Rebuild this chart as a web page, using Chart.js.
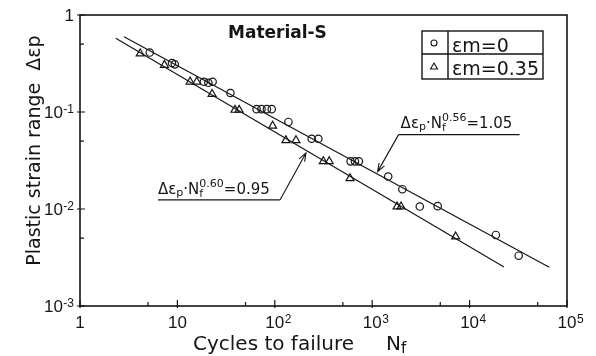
<!doctype html>
<html>

<head>
  <title>Plastic strain range vs cycles to failure</title>
</head>
<style>
  body {
    margin: 0;
    background: #fff;
  }

  .chartContainer {
    width: 596px;
    height: 356px;
  }
</style>

<body>
  <div class="chartContainer">
    <canvas id="fatigueId" width="596" height="356"></canvas>
  </div>
  <script src="https://cdn.jsdelivr.net/npm/chart.js@4/dist/chart.umd.min.js"></script>
  <script>
    // εm = 0 (circles)
    var cycCircle = [5.2, 8.8, 9.4, 18.7, 20.8, 23, 35, 65, 73, 83, 93, 138, 239, 280, 600, 665, 730, 1460, 2040, 3080, 4700, 18600, 31900];
    var strainCircle = [0.41, 0.32, 0.31, 0.205, 0.2, 0.205, 0.157, 0.107, 0.107, 0.107, 0.107, 0.079, 0.053, 0.053, 0.031, 0.031, 0.031, 0.0216, 0.016, 0.0106, 0.0107, 0.0054, 0.0033];
    // εm = 0.35 (triangles)
    var cycTri = [4.15, 7.35, 13.5, 15.8, 22.7, 39, 43, 95, 130, 165, 315, 362, 592, 1800, 1980, 7190];
    var strainTri = [0.4, 0.305, 0.205, 0.205, 0.153, 0.105, 0.105, 0.072, 0.051, 0.051, 0.031, 0.031, 0.0207, 0.0106, 0.0106, 0.0052];
    // fitted lines, end points as drawn
    var fitCircleX = [2.83, 65800];
    var fitCircleY = [0.597, 0.00251];
    var fitTriX = [2.33, 22550];
    var fitTriY = [0.575, 0.00253];

    // tick values; '^' marks the exponent
    var xTicks = [1, 5, 10, 50, 100, 500, 1000, 5000, 10000, 50000, 100000];
    var xTickLabels = ['1', '', '10', '', '10^2', '', '10^3', '', '10^4', '', '10^5'];
    var yTicks = [0.001, 0.005, 0.01, 0.05, 0.1, 0.5, 1];
    var yTickLabels = ['10^-3', '', '10^-2', '', '10^-1', '', '1'];

    var ink = '#151515';
    var fam = '"DejaVu Sans"';
    var numFam = '"Liberation Sans"';

    function pts(xs, ys) {
      return xs.map(function (x, i) { return { x: x, y: ys[i] }; });
    }

    // value on a fitted line (straight in log-log)
    function lineAt(xs, ys, x) {
      var t = (Math.log(x) - Math.log(xs[0])) / (Math.log(xs[1]) - Math.log(xs[0]));
      return Math.exp(Math.log(ys[0]) + t * (Math.log(ys[1]) - Math.log(ys[0])));
    }

    function drawRich(ctx, x, y, parts) {
      parts.forEach(function (p) {
        ctx.font = p[1] + 'px ' + fam;
        ctx.fillText(p[0], x, y + (p[2] || 0));
        if (!p[3]) x += ctx.measureText(p[0]).width;
      });
    }

    // tick label like 10^-2; x is the centre of the base (or its right end for 'right')
    function drawPow(ctx, label, x, y, align) {
      var parts = label.split('^');
      ctx.font = '17px ' + numFam;
      var w0 = ctx.measureText(parts[0]).width;
      var w1 = 0;
      if (parts[1]) {
        ctx.font = '12px ' + numFam;
        w1 = ctx.measureText(parts[1]).width + 0.5;
      }
      var sx = align === 'right' ? x - w0 - w1 : x - w0 / 2;
      ctx.font = '17px ' + numFam;
      ctx.fillText(parts[0], sx, y);
      if (parts[1]) {
        ctx.font = '12px ' + numFam;
        ctx.fillText(parts[1], sx + w0 + 0.5, y - 5);
      }
    }

    function arrow(ctx, x0, y0, x1, y1) {
      ctx.beginPath();
      ctx.moveTo(x0, y0);
      ctx.lineTo(x1, y1);
      var a = Math.atan2(y1 - y0, x1 - x0);
      ctx.moveTo(x1 - 9 * Math.cos(a - 0.35), y1 - 9 * Math.sin(a - 0.35));
      ctx.lineTo(x1, y1);
      ctx.lineTo(x1 - 9 * Math.cos(a + 0.35), y1 - 9 * Math.sin(a + 0.35));
      ctx.stroke();
    }

    var decor = {
      id: 'decor',
      afterDraw: function (chart) {
        var ctx = chart.ctx;
        var ca = chart.chartArea;
        var xs = chart.scales.x, ys = chart.scales.y;
        ctx.save();
        ctx.strokeStyle = ink;
        ctx.fillStyle = ink;
        ctx.lineWidth = 1.6;
        ctx.strokeRect(ca.left, ca.top, ca.right - ca.left, ca.bottom - ca.top);

        // ticks pointing into the plot, labels
        ctx.lineWidth = 1.2;
        ctx.textAlign = 'left';
        ctx.textBaseline = 'alphabetic';
        ctx.beginPath();
        xTicks.forEach(function (v, i) {
          var px = xs.getPixelForValue(v);
          if (xTickLabels[i]) {
            ctx.moveTo(px, ca.bottom + 2);
            ctx.lineTo(px, ca.bottom - 6);
            drawPow(ctx, xTickLabels[i], px, ca.bottom + 22, 'center');
          } else {
            ctx.moveTo(px, ca.bottom);
            ctx.lineTo(px, ca.bottom - 4);
          }
        });
        yTicks.forEach(function (v, i) {
          var py = ys.getPixelForValue(v);
          if (yTickLabels[i]) {
            ctx.moveTo(ca.left - 3, py);
            ctx.lineTo(ca.left + 5, py);
            drawPow(ctx, yTickLabels[i], ca.left - 6, py + 6, 'right');
          } else {
            ctx.moveTo(ca.left, py);
            ctx.lineTo(ca.left + 4, py);
          }
        });
        ctx.stroke();

        // axis titles
        ctx.font = '20px ' + fam;
        ctx.fillText('Cycles to failure', ca.left + 113, ca.bottom + 44);
        drawRich(ctx, ca.left + 306, ca.bottom + 44, [['N', 20], ['f', 15, 3]]);
        ctx.save();
        ctx.translate(ca.left - 40, (ca.top + ca.bottom) / 2 - 10);
        ctx.rotate(-Math.PI / 2);
        ctx.textAlign = 'center';
        ctx.font = '19px ' + fam;
        ctx.fillText('Plastic strain range  Δεp', 0, 0);
        ctx.restore();

        // title
        ctx.font = 'bold 17px ' + fam;
        ctx.fillText('Material-S', ca.left + 148, ca.top + 23);

        // legend table
        var lx = ca.right - 145, ly = ca.top + 16;
        ctx.lineWidth = 1.4;
        ctx.strokeRect(lx, ly, 121, 48);
        ctx.beginPath();
        ctx.moveTo(lx + 26, ly);
        ctx.lineTo(lx + 26, ly + 48);
        ctx.moveTo(lx, ly + 23);
        ctx.lineTo(lx + 121, ly + 23);
        ctx.stroke();
        ctx.lineWidth = 1.1;
        ctx.beginPath();
        ctx.arc(lx + 12, ly + 12, 3, 0, Math.PI * 2);
        ctx.stroke();
        ctx.beginPath();
        ctx.moveTo(lx + 12, ly + 32);
        ctx.lineTo(lx + 15.5, ly + 38);
        ctx.lineTo(lx + 8.5, ly + 38);
        ctx.closePath();
        ctx.stroke();
        ctx.font = '19px ' + fam;
        ctx.fillText('εm=0', lx + 30, ly + 21);
        ctx.fillText('εm=0.35', lx + 30, ly + 44);

        // annotation for the εm = 0 line
        ctx.lineWidth = 1.1;
        var tx = xs.getPixelForValue(1110);
        var ty = ys.getPixelForValue(lineAt(fitCircleX, fitCircleY, 1110));
        var ux = tx + 22, uy = ty - 39;
        ctx.beginPath();
        ctx.moveTo(ux + 121, uy);
        ctx.lineTo(ux, uy);
        ctx.stroke();
        arrow(ctx, ux, uy, tx + 1, ty - 2);
        drawRich(ctx, ux + 2, uy - 7, [['Δε', 15], ['p', 11, 2], ['·N', 15], ['f', 11, 3, true], ['0.56', 11, -7], ['=1.05', 15]]);

        // annotation for the εm = 0.35 line
        tx = xs.getPixelForValue(214);
        ty = ys.getPixelForValue(lineAt(fitTriX, fitTriY, 214));
        ux = tx - 27; uy = ty + 49;
        ctx.beginPath();
        ctx.moveTo(ux - 122, uy);
        ctx.lineTo(ux, uy);
        ctx.stroke();
        arrow(ctx, ux, uy, tx - 1, ty + 2);
        drawRich(ctx, ux - 122, uy - 6, [['Δε', 15], ['p', 11, 2], ['·N', 15], ['f', 11, 3, true], ['0.60', 11, -7], ['=0.95', 15]]);
        ctx.restore();
      }
    };

    var ctx = document.getElementById('fatigueId').getContext('2d');
    var myChart = new Chart(ctx, {
      type: 'scatter',
      data: {
        datasets: [{
          label: 'εm=0',
          data: pts(cycCircle, strainCircle),
          pointStyle: 'circle',
          pointRadius: 3.7,
          borderColor: ink,
          backgroundColor: 'rgba(0,0,0,0)',
          borderWidth: 1.2
        }, {
          label: 'εm=0.35',
          data: pts(cycTri, strainTri),
          pointStyle: 'triangle',
          pointRadius: 4.6,
          borderColor: ink,
          backgroundColor: 'rgba(0,0,0,0)',
          borderWidth: 1.2
        }, {
          label: 'fit εm=0',
          data: pts(fitCircleX, fitCircleY),
          showLine: true,
          pointRadius: 0,
          borderColor: ink,
          borderWidth: 1.2
        }, {
          label: 'fit εm=0.35',
          data: pts(fitTriX, fitTriY),
          showLine: true,
          pointRadius: 0,
          borderColor: ink,
          borderWidth: 1.2
        }]
      },
      options: {
        responsive: false,
        animation: false,
        devicePixelRatio: 1,
        layout: { padding: { top: 15, right: 29, left: 0, bottom: 0 } },
        plugins: { legend: { display: false }, tooltip: { enabled: false } },
        scales: {
          x: {
            type: 'logarithmic',
            min: 1,
            max: 100000,
            afterBuildTicks: function (s) { s.ticks = xTicks.map(function (v) { return { value: v }; }); },
            afterFit: function (s) { s.height = 50; },
            grid: { display: false, drawTicks: false },
            border: { display: false },
            ticks: { display: false }
          },
          y: {
            type: 'logarithmic',
            min: 0.001,
            max: 1,
            afterBuildTicks: function (s) { s.ticks = yTicks.map(function (v) { return { value: v }; }); },
            afterFit: function (s) { s.width = 80; },
            grid: { display: false, drawTicks: false },
            border: { display: false },
            ticks: { display: false }
          }
        }
      },
      plugins: [decor]
    });
  </script>
</body>

</html>
